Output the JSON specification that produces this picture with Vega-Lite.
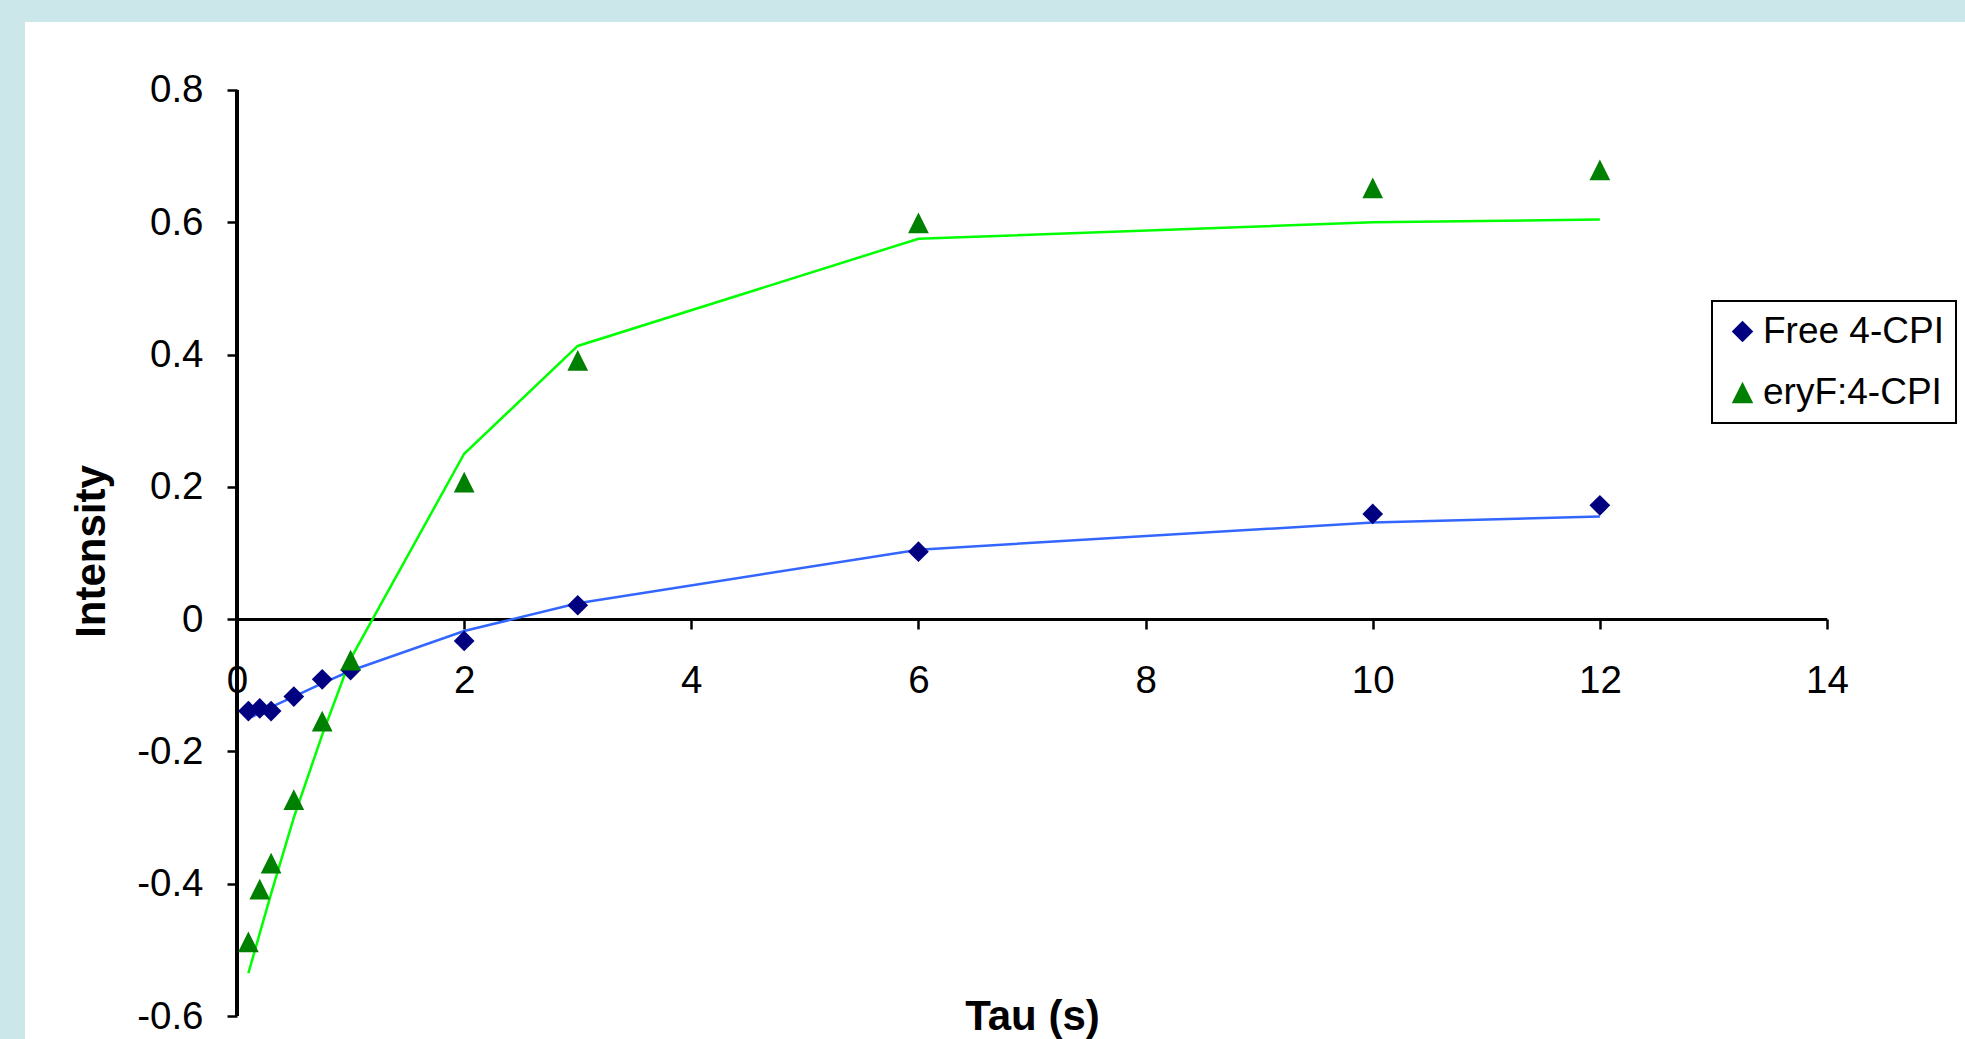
{
  "$schema": "https://vega.github.io/schema/vega-lite/v6.json",
  "autosize": {"type": "none"},
  "width": 1940,
  "height": 1017,
  "padding": {"left": 25, "top": 22, "right": 0, "bottom": 0},
  "background": "#CBE7EA",
  "config": {
    "view": {"fill": "white", "stroke": null},
    "axis": {
      "labelFont": "Liberation Sans",
      "labelFontSize": 38.5,
      "labelColor": "black",
      "titleFont": "Liberation Sans",
      "titleFontSize": 42,
      "titleFontWeight": "bold",
      "titleColor": "black",
      "grid": false,
      "domain": false,
      "tickColor": "black",
      "tickWidth": 2.5,
      "tickSize": 10
    },
    "legend": {
      "padding": 12,
      "strokeColor": "black",
      "strokeWidth": 2,
      "fillColor": "white",
      "labelFont": "Liberation Sans",
      "labelFontSize": 37,
      "labelColor": "black",
      "labelLimit": 400,
      "labelOffset": 2,
      "symbolSize": 460,
      "symbolStrokeWidth": 0,
      "rowPadding": 23
    }
  },
  "data": {
    "values": [
      {"tau": 0.1, "intensity": -0.139, "fit": -0.150, "series": "Free 4-CPI"},
      {"tau": 0.2, "intensity": -0.135, "fit": -0.142, "series": "Free 4-CPI"},
      {"tau": 0.3, "intensity": -0.139, "fit": -0.133, "series": "Free 4-CPI"},
      {"tau": 0.5, "intensity": -0.117, "fit": -0.117, "series": "Free 4-CPI"},
      {"tau": 0.75, "intensity": -0.091, "fit": -0.097, "series": "Free 4-CPI"},
      {"tau": 1, "intensity": -0.077, "fit": -0.078, "series": "Free 4-CPI"},
      {"tau": 2, "intensity": -0.033, "fit": -0.018, "series": "Free 4-CPI"},
      {"tau": 3, "intensity": 0.021, "fit": 0.024, "series": "Free 4-CPI"},
      {"tau": 6, "intensity": 0.102, "fit": 0.105, "series": "Free 4-CPI"},
      {"tau": 10, "intensity": 0.159, "fit": 0.146, "series": "Free 4-CPI"},
      {"tau": 12, "intensity": 0.172, "fit": 0.155, "series": "Free 4-CPI"},
      {"tau": 0.1, "intensity": -0.488, "fit": -0.535, "series": "eryF:4-CPI"},
      {"tau": 0.2, "intensity": -0.408, "fit": -0.475, "series": "eryF:4-CPI"},
      {"tau": 0.3, "intensity": -0.369, "fit": -0.415, "series": "eryF:4-CPI"},
      {"tau": 0.5, "intensity": -0.273, "fit": -0.300, "series": "eryF:4-CPI"},
      {"tau": 0.75, "intensity": -0.154, "fit": -0.175, "series": "eryF:4-CPI"},
      {"tau": 1, "intensity": -0.062, "fit": -0.060, "series": "eryF:4-CPI"},
      {"tau": 2, "intensity": 0.207, "fit": 0.250, "series": "eryF:4-CPI"},
      {"tau": 3, "intensity": 0.391, "fit": 0.413, "series": "eryF:4-CPI"},
      {"tau": 6, "intensity": 0.599, "fit": 0.575, "series": "eryF:4-CPI"},
      {"tau": 10, "intensity": 0.652, "fit": 0.600, "series": "eryF:4-CPI"},
      {"tau": 12, "intensity": 0.679, "fit": 0.604, "series": "eryF:4-CPI"}
    ]
  },
  "encoding": {
    "x": {
      "field": "tau",
      "type": "quantitative",
      "scale": {"domain": [-1.867, 15.215], "nice": false, "zero": false},
      "axis": {
        "values": [0, 2, 4, 6, 8, 10, 12, 14],
        "labelExpr": "'' + datum.value",
        "offset": -420,
        "labelBaseline": "alphabetic",
        "labelPadding": 63,
        "title": "Tau (s)",
        "titleX": 1007,
        "titleY": 410,
        "titleBaseline": "alphabetic",
        "titleAlign": "center",
        "titleAnchor": null
      }
    }
  },
  "layer": [
    {
      "mark": {"type": "rule", "color": "black", "strokeWidth": 2.5},
      "encoding": {
        "x": {"datum": 0, "type": "quantitative"},
        "y": {"datum": -0.6, "type": "quantitative"},
        "y2": {"datum": 0.8}
      }
    },
    {
      "mark": {"type": "rule", "color": "black", "strokeWidth": 2.5},
      "encoding": {
        "x": {"datum": 0, "type": "quantitative"},
        "x2": {"datum": 14},
        "y": {"datum": 0, "type": "quantitative"}
      }
    },
    {
      "transform": [{"filter": "datum.series == 'Free 4-CPI'"}],
      "mark": {"type": "line", "strokeWidth": 2.5, "color": "#3366FF"},
      "encoding": {
        "y": {"field": "fit", "type": "quantitative"}
      }
    },
    {
      "transform": [{"filter": "datum.series == 'eryF:4-CPI'"}],
      "mark": {"type": "line", "strokeWidth": 2.5, "color": "#00FF00"},
      "encoding": {
        "y": {"field": "fit", "type": "quantitative"}
      }
    },
    {
      "mark": {"type": "point", "filled": true, "size": 430, "opacity": 1},
      "encoding": {
        "y": {
          "field": "intensity",
          "type": "quantitative",
          "scale": {"domain": [-0.6347, 0.9027], "nice": false, "zero": false},
          "axis": {
            "values": [-0.6, -0.4, -0.2, 0, 0.2, 0.4, 0.6, 0.8],
            "labelExpr": "'' + datum.value",
            "offset": -212,
            "labelPadding": 24,
            "title": "Intensity",
            "titleX": -133,
            "titleY": 529,
            "titleAngle": -90,
            "titleBaseline": "alphabetic",
            "titleAlign": "center",
            "titleAnchor": null
          }
        },
        "color": {
          "field": "series",
          "type": "nominal",
          "scale": {"domain": ["Free 4-CPI", "eryF:4-CPI"], "range": ["#000080", "#008000"]},
          "legend": {"title": null, "orient": "none", "legendX": 1687, "legendY": 279}
        },
        "shape": {
          "field": "series",
          "type": "nominal",
          "scale": {"domain": ["Free 4-CPI", "eryF:4-CPI"], "range": ["diamond", "M0,-1L1,1L-1,1Z"]},
          "legend": {"title": null, "orient": "none", "legendX": 1687, "legendY": 279}
        }
      }
    }
  ]
}
